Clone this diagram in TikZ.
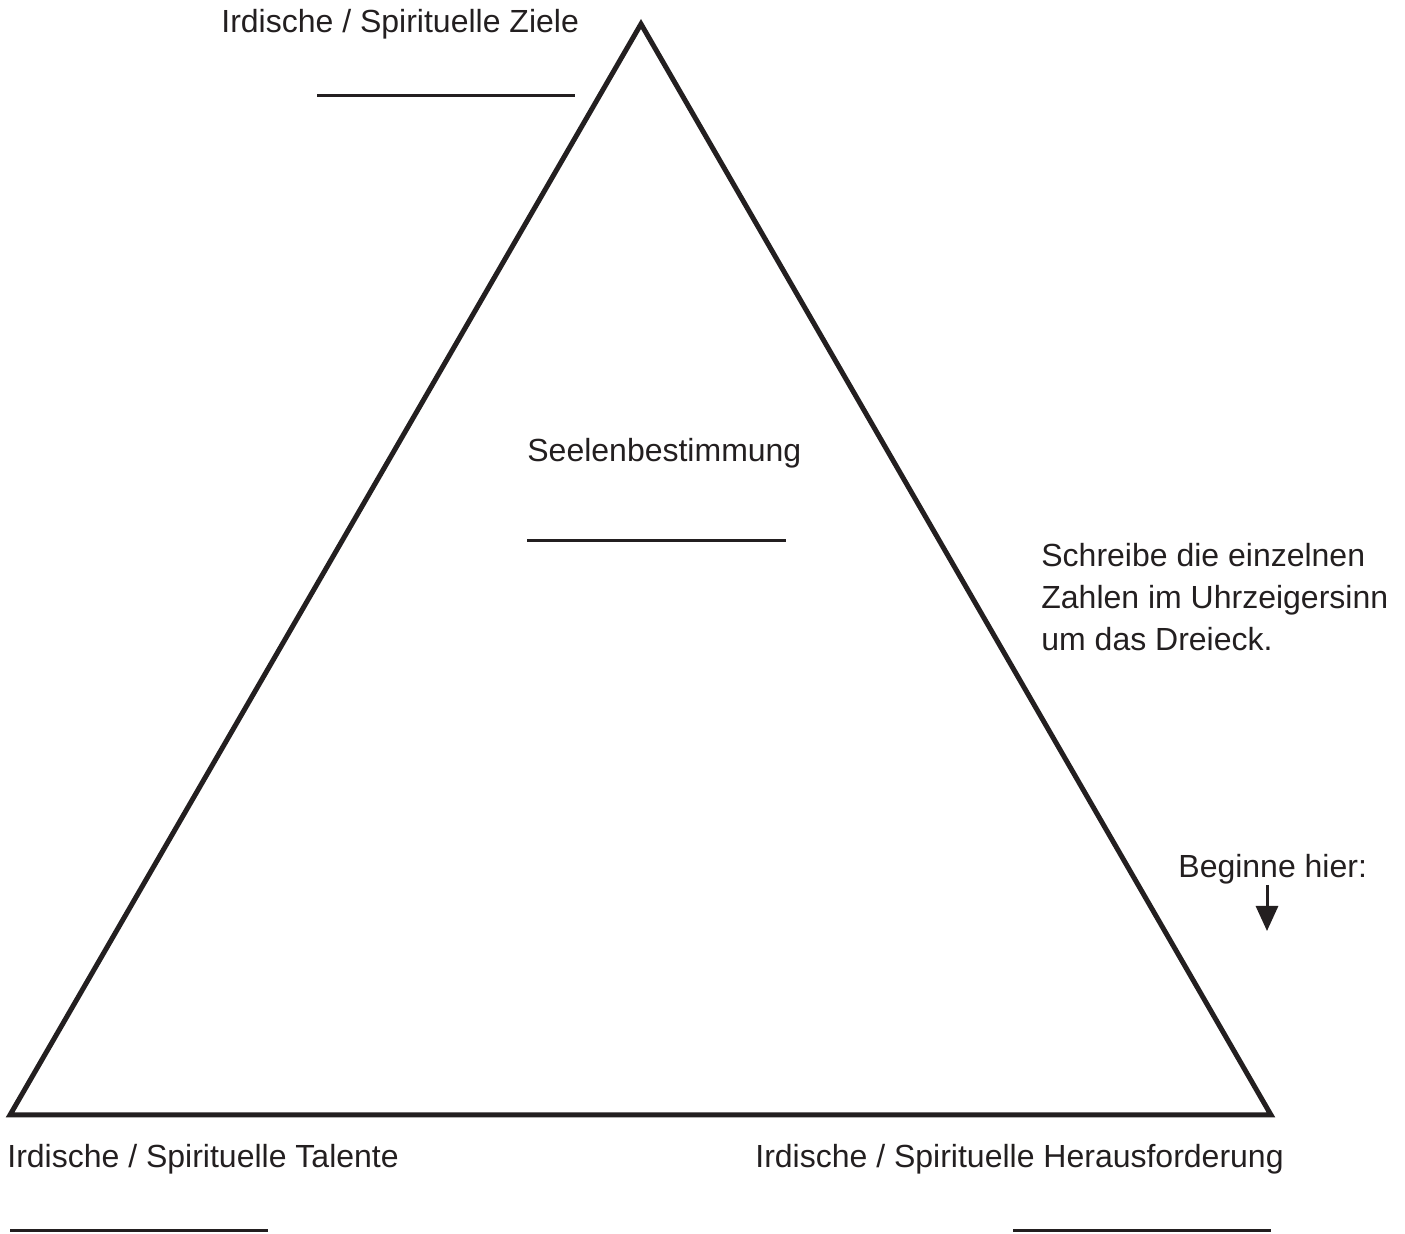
\documentclass[tikz,border=0pt]{standalone}
\usepackage{fontspec}
\setmainfont{Liberation Sans}
\usetikzlibrary{arrows.meta}
\definecolor{ink}{HTML}{231F20}
\begin{document}
\begin{tikzpicture}[x=0.5pt,y=-0.5pt,
  lbl/.style={anchor=base west,inner sep=0pt,font=\fontsize{16}{21}\selectfont,text=ink,align=left},
  blank/.style={draw=ink,line width=1.5pt},
  tri/.style={draw=ink,line width=2.5pt,line join=miter}]
\useasboundingbox (0,0) rectangle (1405,1234);
\coordinate (apex) at (641,24);
\coordinate (bl) at (10,1115);
\coordinate (br) at (1271,1115);
\draw[tri] (apex) -- (br) -- (bl) -- cycle;
\node[lbl] (ziele) at (221,33) {Irdische / Spirituelle Ziele};
\coordinate (z1) at (317,96); \coordinate (z2) at (575,96);
\draw[blank] (z1) -- (z2);
\node[lbl] (seele) at (527,462) {Seelenbestimmung};
\coordinate (s1) at (527,541); \coordinate (s2) at (786,541);
\draw[blank] (s1) -- (s2);
\node[lbl] (hint) at (1041,651) {Schreibe die einzelnen\\Zahlen im Uhrzeigersinn\\um das Dreieck.};
\node[lbl] (begin) at (1178,878) {Beginne hier:};
\coordinate (a1) at (1267,885); \coordinate (a2) at (1267,931);
\draw[ink,line width=1.5pt,-{Triangle[length=12.5pt,width=11pt]}] (a1) -- (a2);
\node[lbl] (talente) at (7,1168) {Irdische / Spirituelle Talente};
\node[lbl] (heraus) at (755,1168) {Irdische / Spirituelle Herausforderung};
\coordinate (t1) at (10,1231); \coordinate (t2) at (268,1231);
\draw[blank] (t1) -- (t2);
\coordinate (h1) at (1013,1231); \coordinate (h2) at (1271,1231);
\draw[blank] (h1) -- (h2);
\end{tikzpicture}
\end{document}
